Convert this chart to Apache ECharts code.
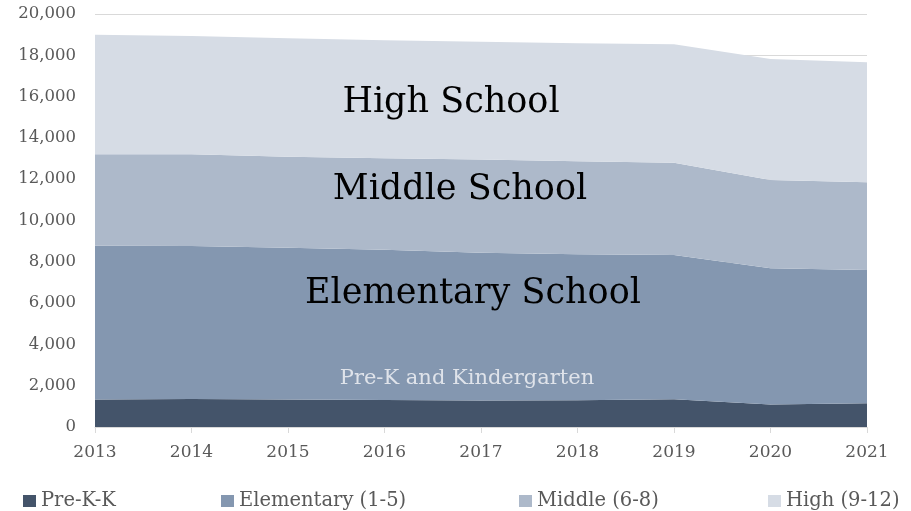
<!DOCTYPE html>
<html>
<head>
<meta charset="utf-8">
<script src="https://cdn.jsdelivr.net/npm/echarts@6/dist/echarts.min.js"></script>
<style>
  html, body { margin: 0; padding: 0; background: #ffffff; }
  #chart { width: 911px; height: 511px; }
</style>
</head>
<body>
<div id="chart"></div>
<script>
// Enrollment by school level, stacked
const years = ['2013', '2014', '2015', '2016', '2017', '2018', '2019', '2020', '2021'];
const preK = [1330, 1360, 1330, 1310, 1280, 1290, 1340, 1090, 1150];
const elementary = [7450, 7405, 7353, 7276, 7161, 7073, 6989, 6595, 6453];
const middle = [4426, 4445, 4407, 4426, 4513, 4509, 4465, 4276, 4247];
const high = [5794, 5730, 5730, 5714, 5706, 5708, 5736, 5859, 5810];

const seriesNames = ['Pre-K-K', 'Elementary (1-5)', 'Middle (6-8)', 'High (9-12)'];
const seriesColors = ['#44546a', '#8497b0', '#adb9ca', '#d6dce5'];
const seriesValues = [preK, elementary, middle, high];

const FONT = '"DejaVu Serif", serif';
const chart = echarts.init(document.getElementById('chart'));

const series = seriesValues.map((vals, i) => ({
  name: seriesNames[i],
  type: 'line',
  stack: 'total',
  data: vals,
  symbol: 'none',
  lineStyle: { width: 0 },
  areaStyle: { color: seriesColors[i], opacity: 1 },
  itemStyle: { color: seriesColors[i] },
  emphasis: { disabled: true }
}));

// One legend block per series so the entries spread across the width
const legendLefts = [18, 216, 514, 763];
const legends = seriesNames.map((n, i) => ({
  data: [n],
  left: legendLefts[i],
  top: 486,
  icon: 'rect',
  itemWidth: 13,
  itemHeight: 12,
  itemGap: 0,
  textStyle: { fontFamily: FONT, fontSize: 19.5, color: '#595959' }
}));

const bigText = { fontFamily: FONT, fontSize: 35, fill: '#000000' };

chart.setOption({
  animation: false,
  backgroundColor: '#ffffff',
  grid: { left: 95, right: 44, top: 14, bottom: 84 },
  xAxis: {
    type: 'category',
    data: years,
    boundaryGap: false,
    axisLine: { lineStyle: { color: '#d9d9d9', width: 1 } },
    axisTick: { show: true, length: 6, lineStyle: { color: '#d9d9d9' } },
    axisLabel: { fontFamily: FONT, fontSize: 17, color: '#595959', margin: 17 }
  },
  yAxis: {
    type: 'value',
    min: 0,
    max: 20000,
    interval: 2000,
    axisLine: { show: false },
    axisTick: { show: false },
    splitLine: { lineStyle: { color: '#d9d9d9', width: 1 } },
    axisLabel: {
      fontFamily: FONT, fontSize: 16.5, color: '#595959', margin: 19,
      formatter: v => v.toLocaleString('en-US')
    }
  },
  legend: legends,
  series: series,
  // Section labels placed over the stacked bands
  graphic: [
    { type: 'text', z: 100, silent: true, x: 451, y: 103,
      style: Object.assign({ text: 'High School', align: 'center', verticalAlign: 'middle' }, bigText) },
    { type: 'text', z: 100, silent: true, x: 460, y: 190,
      style: Object.assign({ text: 'Middle School', align: 'center', verticalAlign: 'middle' }, bigText) },
    { type: 'text', z: 100, silent: true, x: 473, y: 294,
      style: Object.assign({ text: 'Elementary School', align: 'center', verticalAlign: 'middle' }, bigText) },
    { type: 'text', z: 100, silent: true, x: 467, y: 379,
      style: { text: 'Pre-K and Kindergarten', align: 'center', verticalAlign: 'middle', fontFamily: FONT, fontSize: 21, fill: '#dfe3ea' } }
  ]
});
</script>
</body>
</html>
